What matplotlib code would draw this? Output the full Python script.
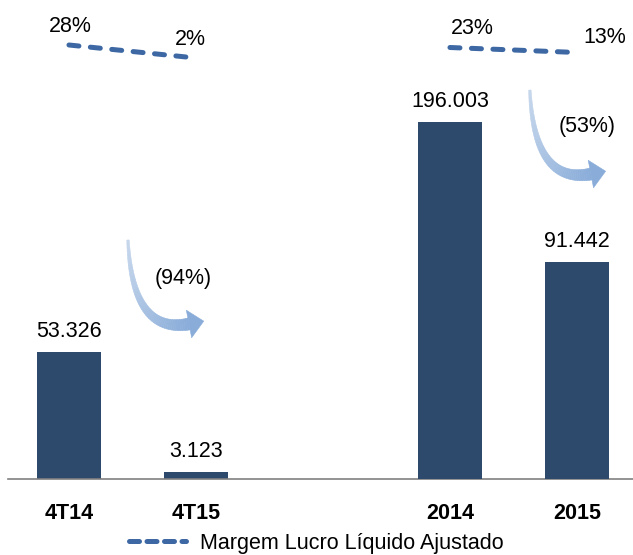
import numpy as np
import matplotlib.pyplot as plt
from matplotlib.lines import Line2D
from matplotlib.collections import PolyCollection
from matplotlib.colors import to_rgb

plt.rcParams['font.family'] = ['Liberation Sans', 'DejaVu Sans']

# data
categorias = ['4T14', '4T15', '2014', '2015']
posicoes = [0, 1, 3, 4]
lucro_tri = [53326, 3123]
lucro_ano = [196003, 91442]
rotulos_lucro = ['53.326', '3.123', '196.003', '91.442']
margem_tri = [28, 2]
margem_ano = [23, 13]
rotulos_margem = ['28%', '2%', '23%', '13%']
variacoes = ['(94%)', '(53%)']
legenda = 'Margem Lucro Líquido Ajustado'

cor_barra = '#2D4A6D'
cor_linha = '#3D68A3'


def seta_curva(fig, ax, inicio, cor_ini='#C6D7EC', cor_fim='#89ACD9'):
    # curved arrow (thin tail widening towards the head), drawn in pixels
    P0 = ax.transAxes.transform(inicio)
    P1 = P0 + np.array([4, -95])
    P2 = P0 + np.array([61, -84])
    t = np.linspace(0, 1, 50)[:, None]
    pts = (1 - t)**2 * P0 + 2 * (1 - t) * t * P1 + t**2 * P2
    d = 2 * (1 - t) * (P1 - P0) + 2 * t * (P2 - P1)
    d = d / np.linalg.norm(d, axis=1)[:, None]
    n = np.column_stack([-d[:, 1], d[:, 0]])
    w = 1.2 + 4.8 * t
    esq, dir_ = pts + n * w, pts - n * w
    c0, c1 = np.array(to_rgb(cor_ini)), np.array(to_rgb(cor_fim))
    polys, cores = [], []
    for i in range(len(t) - 1):
        polys.append([esq[i], esq[i + 1], dir_[i + 1], dir_[i]])
        cores.append(c0 + (c1 - c0) * t[i, 0])
    polys.append([P2 + n[-1] * 14, P2 + d[-1] * 15, P2 - n[-1] * 14])
    cores.append(c1)
    inv = fig.transFigure.inverted()
    polys = [inv.transform(np.array(p)) for p in polys]
    fig.add_artist(PolyCollection(polys, facecolors=cores, edgecolors=cores,
                                  linewidths=0.4, transform=fig.transFigure))


fig = plt.figure(figsize=(6.33, 5.55), dpi=100)
ax = fig.add_axes([8/633, 76/555, 625/633, 479/555])
ax_ano = ax.twinx()
ax_mg = ax.twinx()

# quarterly bars
ax.bar(posicoes[:2], lucro_tri, width=0.5, color=cor_barra)
ax.set_ylim(0, 201000)

# annual bars (own scale, as in the original slide)
lo_ano, hi_ano = -70650, 287080
ax_ano.set_ylim(lo_ano, hi_ano)
ax_ano.bar(posicoes[2:], np.array(lucro_ano) - lo_ano, bottom=lo_ano,
           width=0.5, color=cor_barra)

for x, v, r in zip(posicoes[:2], lucro_tri, rotulos_lucro[:2]):
    ax.annotate(r, (x, v), xytext=(0, 7), textcoords='offset points',
                ha='center', va='bottom', fontsize=15.5)
for x, v, r in zip(posicoes[2:], lucro_ano, rotulos_lucro[2:]):
    ax_ano.annotate(r, (x, v), xytext=(0, 7), textcoords='offset points',
                    ha='center', va='bottom', fontsize=15.5)

# margin lines
ax_mg.set_ylim(-840, 118)
estilo = dict(color=cor_linha, lw=3.6, dashes=(2.0, 2.3),
              dash_capstyle='round', solid_capstyle='round')
ax_mg.plot(posicoes[:2], margem_tri, **estilo)
ax_mg.plot(posicoes[2:], margem_ano, **estilo)
desloc = [(1, 13), (-4, 13), (16, 14), (20, 11)]
for x, m, r, d in zip(posicoes, margem_tri + margem_ano, rotulos_margem, desloc):
    ax_mg.annotate(r, (x, m), xytext=d, textcoords='offset points',
                   ha='center', va='center', fontsize=15.5)

# curved arrows with the variation
setas = [((0.192, 0.499), (0.280, 0.418)),
         ((0.835, 0.812), (0.926, 0.735))]
for (ini, txt), var in zip(setas, variacoes):
    seta_curva(fig, ax, ini)
    ax.text(txt[0], txt[1], var, transform=ax.transAxes, ha='center',
            va='center', fontsize=15.5)

ax.set_xlim(-0.48, -0.48 + 625/127)
ax.set_xticks(posicoes)
ax.set_xticklabels(categorias, fontsize=15.5, fontweight='bold')
ax.tick_params(axis='x', length=0, pad=17)
ax.set_yticks([])
for a in (ax_ano, ax_mg):
    a.set_yticks([])
    for s in a.spines.values():
        s.set_visible(False)
for s in ['top', 'left', 'right']:
    ax.spines[s].set_visible(False)
ax.spines['bottom'].set_color('#808080')
ax.spines['bottom'].set_linewidth(1.2)

h = Line2D([], [], color=cor_linha, lw=3.6, dashes=(2.0, 1.5),
           dash_capstyle='round')
fig.legend([h], [legenda], loc='center', bbox_to_anchor=(0.5, 12/555),
           frameon=False, fontsize=15.5, handlelength=2.65, handletextpad=0.65)

fig.savefig('out.png', dpi=100)
